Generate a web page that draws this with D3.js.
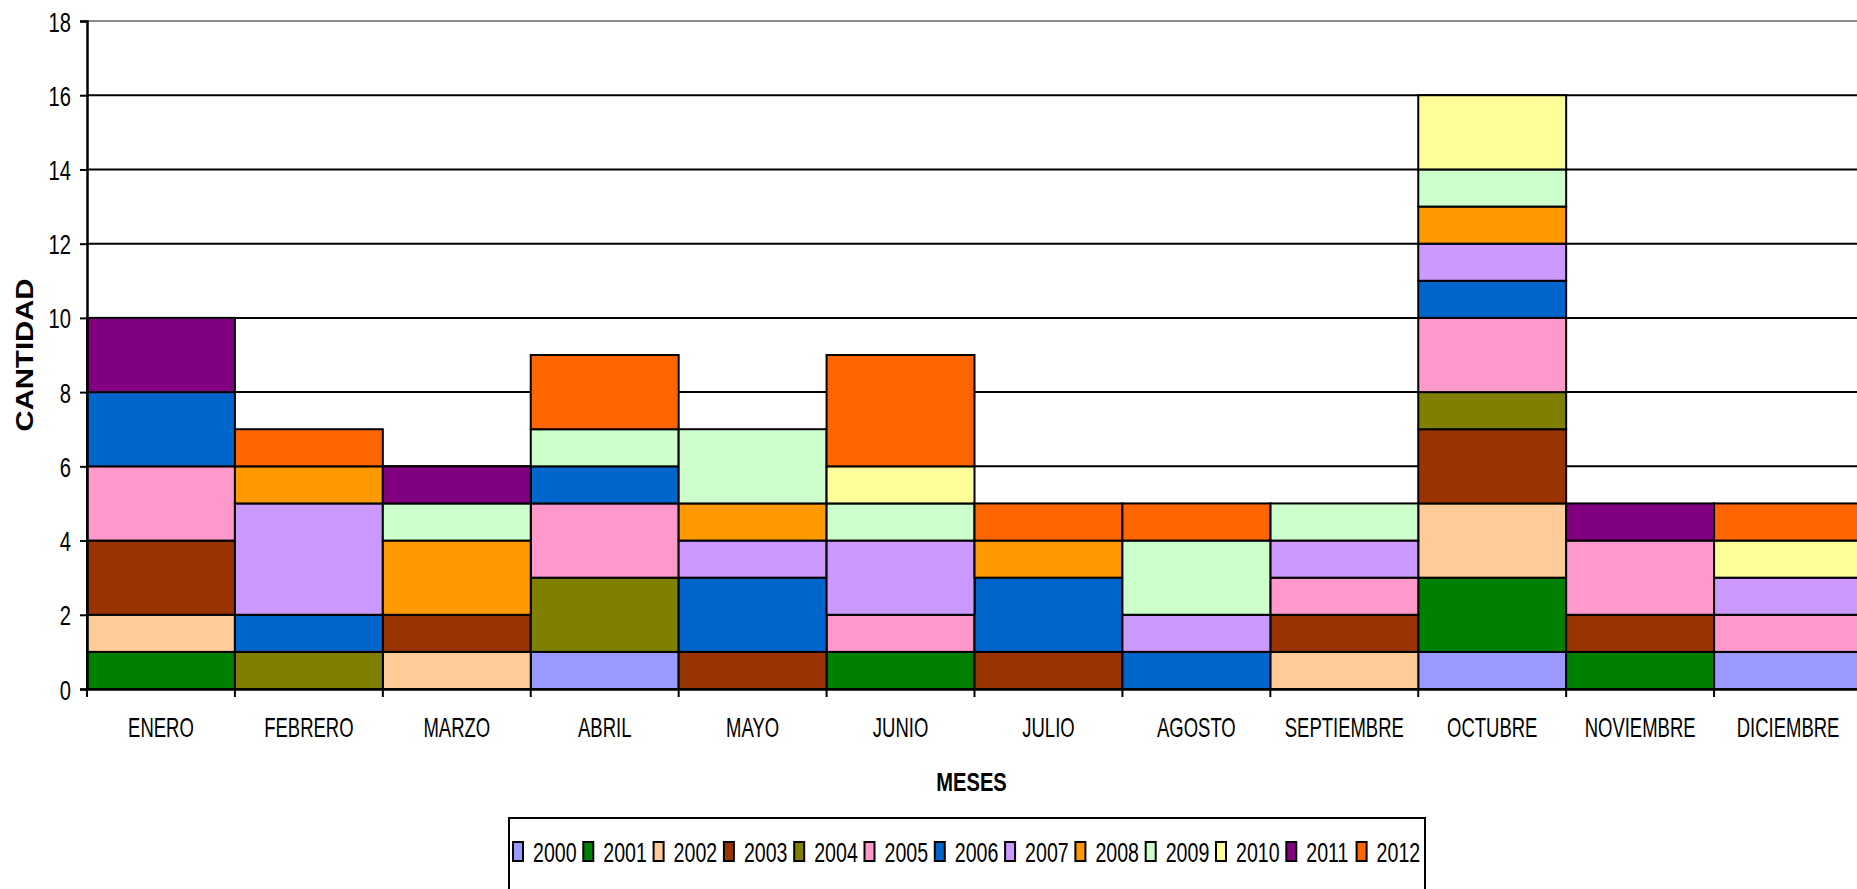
<!DOCTYPE html>
<html>
<head>
<meta charset="utf-8">
<script src="https://cdn.jsdelivr.net/npm/d3@7"></script>
<style>
  html, body { margin: 0; padding: 0; background: #fff; overflow: hidden; }
  svg { display: block; }
  text { font-family: "Liberation Sans", Arial, sans-serif; fill: #000; }
</style>
</head>
<body>
<svg id="chart" width="1857" height="889"></svg>
<script>
// ---- Data ----
const months = ["ENERO","FEBRERO","MARZO","ABRIL","MAYO","JUNIO","JULIO","AGOSTO","SEPTIEMBRE","OCTUBRE","NOVIEMBRE","DICIEMBRE"];
const years = ["2000","2001","2002","2003","2004","2005","2006","2007","2008","2009","2010","2011","2012"];
const yearColors = ["#9999FF","#008000","#FFCC99","#993300","#808000","#FF99CC","#0066CC","#CC99FF","#FF9900","#CCFFCC","#FFFF99","#800080","#FF6600"];
const yTicks = [0,2,4,6,8,10,12,14,16,18];

const v2000 = [0,0,0,1,0,0,0,0,0,1,0,1];
const v2001 = [1,0,0,0,0,1,0,0,0,2,1,0];
const v2002 = [1,0,1,0,0,0,0,0,1,2,0,0];
const v2003 = [2,0,1,0,1,0,1,0,1,2,1,0];
const v2004 = [0,1,0,2,0,0,0,0,0,1,0,0];
const v2005 = [2,0,0,2,0,1,0,0,1,2,2,1];
const v2006 = [2,1,0,1,2,0,2,1,0,1,0,0];
const v2007 = [0,3,0,0,1,2,0,1,1,1,0,1];
const v2008 = [0,1,2,0,1,0,1,0,0,1,0,0];
const v2009 = [0,0,1,1,2,1,0,2,1,1,0,0];
const v2010 = [0,0,0,0,0,1,0,0,0,2,0,1];
const v2011 = [2,0,1,0,0,0,0,0,0,0,1,0];
const v2012 = [0,1,0,2,0,3,1,1,0,0,0,1];
const seriesValues = [v2000,v2001,v2002,v2003,v2004,v2005,v2006,v2007,v2008,v2009,v2010,v2011,v2012];

// table for d3.stack
const table = months.map((m, i) => {
  const row = { month: m };
  years.forEach((yr, j) => { row[yr] = seriesValues[j][i]; });
  return row;
});

const svg = d3.select("#chart");
const pL = 87, pR = 1862, pT = 21, pB = 689;

const x = d3.scaleBand().domain(months).range([pL, pR]).padding(0);
const y = d3.scaleLinear().domain([0, 18]).range([pB, pT]);
const color = d3.scaleOrdinal().domain(years).range(yearColors);

// Gridlines
svg.append("g").selectAll("line")
  .data(yTicks.filter(t => t > 0))
  .join("line")
  .attr("x1", pL).attr("x2", pR)
  .attr("y1", d => y(d)).attr("y2", d => y(d))
  .attr("stroke", d => d === 18 ? "#8c8c8c" : "#000")
  .attr("stroke-width", 2);

// Bars
const stacked = d3.stack().keys(years)(table);
svg.append("g").selectAll("g")
  .data(stacked)
  .join("g")
  .attr("fill", d => color(d.key))
  .selectAll("rect")
  .data(d => d.filter(s => s[1] > s[0]))
  .join("rect")
  .attr("x", d => x(d.data.month))
  .attr("width", x.bandwidth())
  .attr("y", d => y(d[1]))
  .attr("height", d => y(d[0]) - y(d[1]))
  .attr("stroke", "#000")
  .attr("stroke-width", 2);

// Y axis
const yAxis = svg.append("g").attr("transform", `translate(${pL},0)`)
  .call(d3.axisLeft(y).tickValues(yTicks).tickSize(7).tickPadding(0).tickFormat(d3.format("d")));
yAxis.select(".domain").attr("stroke", "#000").attr("stroke-width", 2.5);
yAxis.selectAll(".tick line").attr("stroke", "#000").attr("stroke-width", 2);
yAxis.selectAll(".tick text").each(function() {
  d3.select(this).attr("x", null).attr("dy", null)
   .attr("transform", "translate(-16,10) scale(0.72,1)")
   .attr("text-anchor", "end")
   .style("font-size", "28px")
   .style("font-family", "'Liberation Sans', Arial, sans-serif");
});

// X axis
const xAxis = svg.append("g").attr("transform", `translate(0,${pB})`)
  .call(d3.axisBottom(x).tickSize(0).tickPadding(0));
xAxis.select(".domain").attr("stroke", "#000").attr("stroke-width", 2.5);
xAxis.selectAll(".tick text").each(function() {
  d3.select(this).attr("y", null).attr("dy", null)
    .attr("transform", "translate(0,48) scale(0.66,1)")
    .attr("text-anchor", "middle")
    .style("font-size", "28px")
    .style("font-family", "'Liberation Sans', Arial, sans-serif");
});
// category boundary ticks
svg.append("g").selectAll("line")
  .data(months)
  .join("line")
  .attr("x1", d => x(d)).attr("x2", d => x(d))
  .attr("y1", pB).attr("y2", pB + 8)
  .attr("stroke", "#000").attr("stroke-width", 2);

// Axis titles
svg.append("text")
  .attr("transform", "translate(33,355) rotate(-90) scale(1.22,1)")
  .attr("text-anchor", "middle")
  .style("font-size", "24px").style("font-weight", "bold")
  .text("CANTIDAD");
svg.append("text")
  .attr("transform", `translate(${(pL + pR) / 2 - 3},791) scale(0.76,1)`)
  .attr("text-anchor", "middle")
  .style("font-size", "26.5px").style("font-weight", "bold")
  .text("MESES");

// Legend
const legendBox = { x: 509, y: 818, w: 916, h: 100 };
svg.append("rect")
  .attr("x", legendBox.x).attr("y", legendBox.y)
  .attr("width", legendBox.w).attr("height", legendBox.h)
  .attr("fill", "#fff").attr("stroke", "#000").attr("stroke-width", 2);
const legendStep = 70.3;
const lg = svg.append("g").selectAll("g")
  .data(years)
  .join("g")
  .attr("transform", (d, i) => `translate(${513 + i * legendStep},0)`);
lg.append("rect")
  .attr("x", 0).attr("y", 842).attr("width", 10).attr("height", 19)
  .attr("fill", d => color(d)).attr("stroke", "#000").attr("stroke-width", 2);
lg.append("text")
  .attr("transform", "translate(20,862) scale(0.7,1)")
  .style("font-size", "28px")
  .text(d => d);
</script>
</body>
</html>
